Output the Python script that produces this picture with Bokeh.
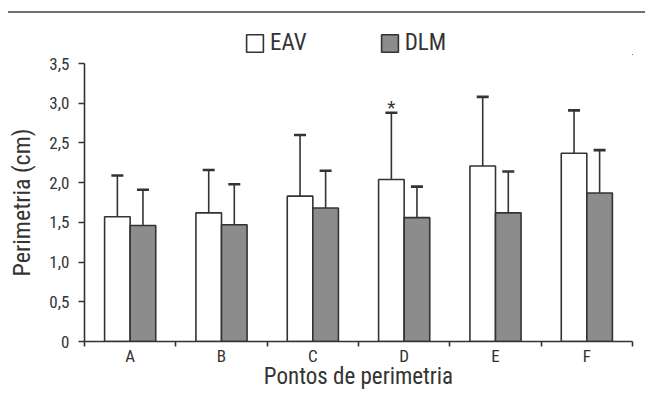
from bokeh.plotting import figure
from bokeh.models import Range1d, FixedTicker, Whisker, TeeHead, ColumnDataSource, Legend, LegendItem, Div
from bokeh.layouts import column
from bokeh.embed import file_html
from bokeh.resources import INLINE
from bokeh.core.properties import value

categories = ["A", "B", "C", "D", "E", "F"]
eav_mean = [1.57, 1.62, 1.83, 2.04, 2.21, 2.37]
eav_sd = [0.52, 0.54, 0.77, 0.84, 0.87, 0.54]
dlm_mean = [1.46, 1.47, 1.68, 1.56, 1.62, 1.87]
dlm_sd = [0.45, 0.51, 0.47, 0.39, 0.52, 0.54]
significance = ["", "", "", "*", "", ""]
series_names = ["EAV", "DLM"]
y_ticks = [0, 0.5, 1.0, 1.5, 2.0, 2.5, 3.0, 3.5]
y_tick_labels = ["0", "0,5", "1,0", "1,5", "2,0", "2,5", "3,0", "3,5"]

FONT = "Liberation Sans Narrow, Roboto Condensed, DejaVu Sans Condensed, sans-serif"
TXT = "#333333"
DARK = "#333333"
GRAY = "#8c8c8c"
FILLS = ["white", GRAY]

n = len(categories)
centers = [i + 0.5 for i in range(n)]
bw = 0.28
eav_x = [c - bw / 2 for c in centers]
dlm_x = [c + bw / 2 for c in centers]

src_eav = ColumnDataSource(dict(x=eav_x, top=eav_mean, hi=[m + s for m, s in zip(eav_mean, eav_sd)], sig=significance))
src_dlm = ColumnDataSource(dict(x=dlm_x, top=dlm_mean, hi=[m + s for m, s in zip(dlm_mean, dlm_sd)]))
sources = [src_eav, src_dlm]

# rule line across the top of the page
rule = Div(text="", width=637, height=13, margin=(0, 0, 0, 8),
           styles={"border-bottom": "2px solid #707070"})

# legend strip (its bars lie far outside its visible ranges; only the legend shows)
pl = figure(width=637, height=42, x_range=Range1d(-40, -34), y_range=Range1d(20, 21),
            min_border_left=84, min_border_right=5, min_border_top=0, min_border_bottom=0,
            toolbar_location=None, output_backend="svg")
pl.axis.visible = False
pl.grid.visible = False
pl.outline_line_color = None
items = []
for name, fc, src in zip(series_names, FILLS, sources):
    r = pl.vbar(x="x", top="top", width=bw, bottom=0, source=src,
                fill_color=fc, line_color=DARK, line_width=1.6)
    items.append(LegendItem(label=name, renderers=[r]))
legend = Legend(items=items, location=(160, -1), orientation="horizontal",
                glyph_width=21, glyph_height=22, label_standoff=5, spacing=72,
                padding=0, margin=0, border_line_color=None, background_fill_alpha=0,
                label_text_font=FONT, label_text_font_size="23px", label_text_color=TXT)
pl.add_layout(legend)

# main chart
p = figure(width=637, height=340, x_range=Range1d(0, n), y_range=Range1d(0, 3.5),
           min_border_left=84, min_border_right=5, min_border_top=8, min_border_bottom=54,
           toolbar_location=None, output_backend="svg")
p.grid.visible = False
p.outline_line_color = None
p.background_fill_color = "white"
p.border_fill_color = "white"

for src, fc in zip(sources, FILLS):
    p.vbar(x="x", top="top", width=bw, bottom=0, source=src,
           fill_color=fc, line_color=DARK, line_width=1.6)
    w = Whisker(base="x", lower="top", upper="hi", source=src, dimension="height",
                line_color=DARK, line_width=1.6,
                upper_head=TeeHead(size=12, line_color=DARK, line_width=2.6), lower_head=None)
    p.add_layout(w)

p.text(x="x", y="hi", text="sig", source=src_eav, text_align="center", text_baseline="alphabetic",
       y_offset=-5, text_font=value(FONT), text_font_size="19px", text_color=TXT)

yax = p.yaxis[0]
yax.ticker = FixedTicker(ticks=y_ticks)
yax.major_label_overrides = {t: l for t, l in zip(y_ticks, y_tick_labels)}
yax.minor_tick_line_color = None
yax.major_tick_out = 6
yax.major_tick_in = 0
yax.major_label_standoff = 9
yax.axis_label = "Perimetria (cm)"
yax.axis_label_standoff = 10

xax = p.xaxis[0]
xax.ticker = FixedTicker(ticks=centers, minor_ticks=list(range(n + 1)))
xax.major_label_overrides = {c: cat for c, cat in zip(centers, categories)}
xax.major_tick_out = 0
xax.major_tick_in = 0
xax.minor_tick_out = 5
xax.minor_tick_in = 0
xax.major_label_standoff = -1
xax.axis_label = "Pontos de perimetria"
xax.axis_label_standoff = -6

for ax in (xax, yax):
    ax.axis_line_color = DARK
    ax.axis_line_width = 1.6
    ax.major_tick_line_color = DARK
    ax.major_tick_line_width = 1.6
    ax.minor_tick_line_width = 1.6
    ax.major_label_text_font = FONT
    ax.major_label_text_font_size = "17px"
    ax.major_label_text_color = TXT
    ax.axis_label_text_font = FONT
    ax.axis_label_text_font_size = "23px"
    ax.axis_label_text_font_style = "normal"
    ax.axis_label_text_color = TXT
xax.minor_tick_line_color = DARK
yax.axis_label_text_font_size = "24px"

layout = column(rule, pl, p, spacing=0)
open("out.html", "w").write(file_html(layout, INLINE))
